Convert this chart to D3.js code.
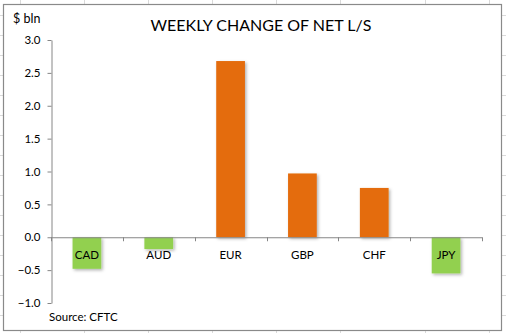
<!DOCTYPE html>
<html><head><meta charset="utf-8">
<script src="https://cdn.jsdelivr.net/npm/d3@7"></script>
<style>
html,body{margin:0;padding:0;background:#fff;}
svg{display:block;font-family:Lato,"Open Sans",sans-serif;}
</style></head>
<body>
<svg id="c" width="506" height="333"></svg>
<script>
const categories = ["CAD","AUD","EUR","GBP","CHF","JPY"];
const values = [-0.48,-0.18,2.68,0.97,0.75,-0.55];
const yTicks = [-1.0,-0.5,0.0,0.5,1.0,1.5,2.0,2.5,3.0];
const title = "WEEKLY CHANGE OF NET L/S";
const unitLabel = "$ bln";
const source = "Source: CFTC";

const svg = d3.select("#c");
const W = 506, H = 333;

// spreadsheet background gridlines
const sheetCols = [20,84,148,212,276,340,425,489];
svg.append("g").selectAll("line").data(sheetCols).join("line")
  .attr("x1",d=>d+0.5).attr("x2",d=>d+0.5).attr("y1",0).attr("y2",H)
  .attr("stroke","#dadada").attr("stroke-width",1);
svg.append("g").selectAll("line").data(d3.range(15,H,20)).join("line")
  .attr("x1",0).attr("x2",W).attr("y1",d=>d+0.5).attr("y2",d=>d+0.5)
  .attr("stroke","#dadada").attr("stroke-width",1);

// chart area
svg.append("rect").attr("x",3.5).attr("y",4.5).attr("width",498).attr("height",326)
  .attr("fill","#fff").attr("stroke","#8a8a8a").attr("stroke-width",1.2);

const defs = svg.append("defs");
const f = defs.append("filter").attr("id","sh").attr("x","-30%").attr("y","-30%").attr("width","160%").attr("height","160%");
f.append("feDropShadow").attr("dx",1.5).attr("dy",1.5).attr("stdDeviation",1.5).attr("flood-color","#000").attr("flood-opacity",0.3);

const x = d3.scaleBand().domain(categories).range([51,482]).paddingInner(0.6).paddingOuter(0.3);
const y = d3.scaleLinear().domain([-1,3]).range([303,40]);

// y axis
const yAxis = svg.append("g").attr("transform","translate(51.5,0)")
  .call(d3.axisLeft(y).tickValues(yTicks).tickFormat(d3.format(".1f")).tickSize(4).tickSizeOuter(0));
yAxis.select(".domain").attr("stroke","#868686");
yAxis.selectAll(".tick line").attr("stroke","#868686");
yAxis.selectAll(".tick text").attr("font-size",11.5).attr("fill","#000").attr("x",-11)
  .attr("font-family","Lato,'Open Sans',sans-serif");

// bars
svg.append("g").selectAll("rect").data(categories).join("rect")
  .attr("x",d=>x(d))
  .attr("width",x.bandwidth())
  .attr("y",(d,i)=>y(Math.max(0,values[i])))
  .attr("height",(d,i)=>Math.abs(y(values[i])-y(0)))
  .attr("fill",(d,i)=>values[i]>=0?"#E46C0A":"#92D050")
  .attr("filter","url(#sh)");

// x axis at zero
const xTickPos = d3.range(categories.length+1).map(i=>51+i*(431/categories.length));
const xa = svg.append("g");
xa.append("line").attr("x1",51).attr("x2",482).attr("y1",y(0)+0.5).attr("y2",y(0)+0.5).attr("stroke","#868686");
xa.selectAll("line.t").data(xTickPos).join("line").attr("class","t")
  .attr("x1",d=>Math.round(d)+0.5).attr("x2",d=>Math.round(d)+0.5)
  .attr("y1",y(0)).attr("y2",y(0)+4).attr("stroke","#868686");
xa.selectAll("text").data(categories).join("text")
  .attr("x",d=>x(d)+x.bandwidth()/2).attr("y",y(0)+22)
  .attr("text-anchor","middle").attr("font-size",11.5).attr("fill","#000").text(d=>d);

// titles
svg.append("text").attr("x",261).attr("y",31).attr("text-anchor","middle")
  .attr("font-size",16).attr("fill","#000").text(title);
svg.append("text").attr("x",13).attr("y",23).attr("font-size",12.5).attr("fill","#000").text(unitLabel);
svg.append("text").attr("x",49).attr("y",321).attr("font-size",11.5).attr("fill","#000").text(source);
</script>
</body></html>
